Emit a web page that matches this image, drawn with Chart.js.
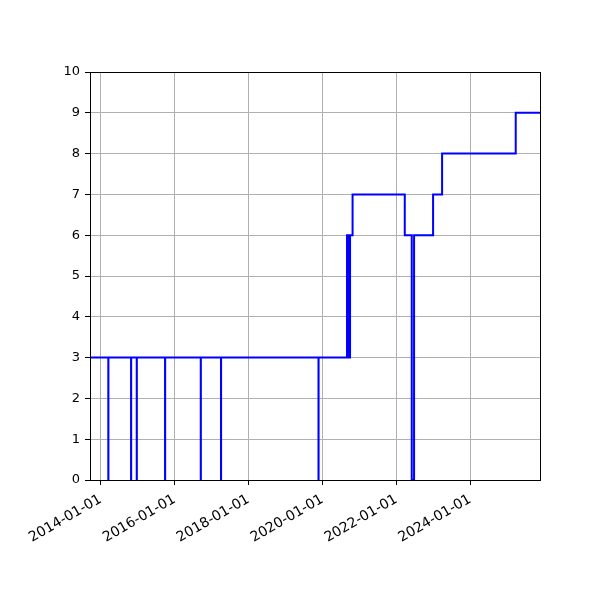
<!DOCTYPE html>
<html>
<head>
<meta charset="utf-8">
<script src="https://cdn.jsdelivr.net/npm/chart.js@4.4.0/dist/chart.umd.min.js"></script>
<style>
    body { margin: 0; background: #fff; }
    #wrap { width: 600px; height: 600px; }
</style>
</head>
<body>
<div id="wrap"><canvas id="stepChart"></canvas></div>
<script>
// Dates where the value changes, and the value held from that date on
const changeDates = [
    '2013-09-17', '2014-03-17', '2014-03-18', '2014-10-28', '2014-10-29',
    '2014-12-23', '2014-12-24', '2015-09-29', '2015-09-30', '2016-09-16',
    '2016-09-17', '2017-04-04', '2017-04-05', '2019-11-24', '2019-11-25',
    '2020-09-01', '2020-09-16', '2020-10-01', '2020-10-26', '2022-03-26',
    '2022-06-03', '2022-06-26', '2022-12-31', '2023-03-30', '2025-03-27',
    '2025-11-22'
];
const levels = [
    3, 0, 3, 0, 3,
    0, 3, 0, 3, 0,
    3, 0, 3, 0, 3,
    6, 3, 6, 7, 6,
    0, 6, 7, 8, 9,
    9
];
const xTickDates = ['2014-01-01', '2016-01-01', '2018-01-01', '2020-01-01', '2022-01-01', '2024-01-01'];
const xRange = ['2013-09-17', '2025-11-22'];
const yRange = [0, 10];

const points = changeDates.map((d, i) => ({ x: Date.parse(d), y: levels[i] }));

// matplotlib-like closed box around the plot area
const frameBox = {
    id: 'frameBox',
    afterDraw(chart) {
        const a = chart.chartArea;
        const c = chart.ctx;
        c.save();
        c.strokeStyle = '#000';
        c.lineWidth = 1;
        c.strokeRect(Math.round(a.left) + 0.5, Math.round(a.top) + 0.5,
                     Math.round(a.right - a.left), Math.round(a.bottom - a.top));
        c.restore();
    }
};

new Chart(document.getElementById('stepChart'), {
    type: 'line',
    data: {
        datasets: [{
            data: points,
            borderColor: '#0000ff',
            borderWidth: 2,
            pointRadius: 0,
            stepped: 'before',
            fill: false
        }]
    },
    options: {
        responsive: true,
        maintainAspectRatio: false,
        animation: false,
        devicePixelRatio: 1,
        layout: { padding: { left: 0, top: 72, right: 60, bottom: 0 } },
        plugins: {
            legend: { display: false },
            tooltip: { enabled: false }
        },
        scales: {
            x: {
                type: 'linear',
                min: Date.parse(xRange[0]),
                max: Date.parse(xRange[1]),
                afterBuildTicks: s => { s.ticks = xTickDates.map(d => ({ value: Date.parse(d) })); },
                afterFit: s => { s.height = 120; },
                border: { display: false },
                grid: { color: '#b0b0b0', lineWidth: 1, tickLength: 5, tickColor: '#000', tickWidth: 1 },
                ticks: {
                    autoSkip: false,
                    minRotation: 30,
                    maxRotation: 30,
                    padding: 6,
                    color: '#000',
                    font: { family: 'DejaVu Sans', size: 14 },
                    callback: v => new Date(v).toISOString().slice(0, 10)
                }
            },
            y: {
                min: yRange[0],
                max: yRange[1],
                afterFit: s => { s.width = 90; },
                border: { display: false },
                grid: { color: '#b0b0b0', lineWidth: 1, tickLength: 5, tickColor: '#000', tickWidth: 1 },
                ticks: {
                    stepSize: 1,
                    padding: 5,
                    color: '#000',
                    font: { family: 'DejaVu Sans', size: 13 }
                }
            }
        }
    },
    plugins: [frameBox]
});
</script>
</body>
</html>
